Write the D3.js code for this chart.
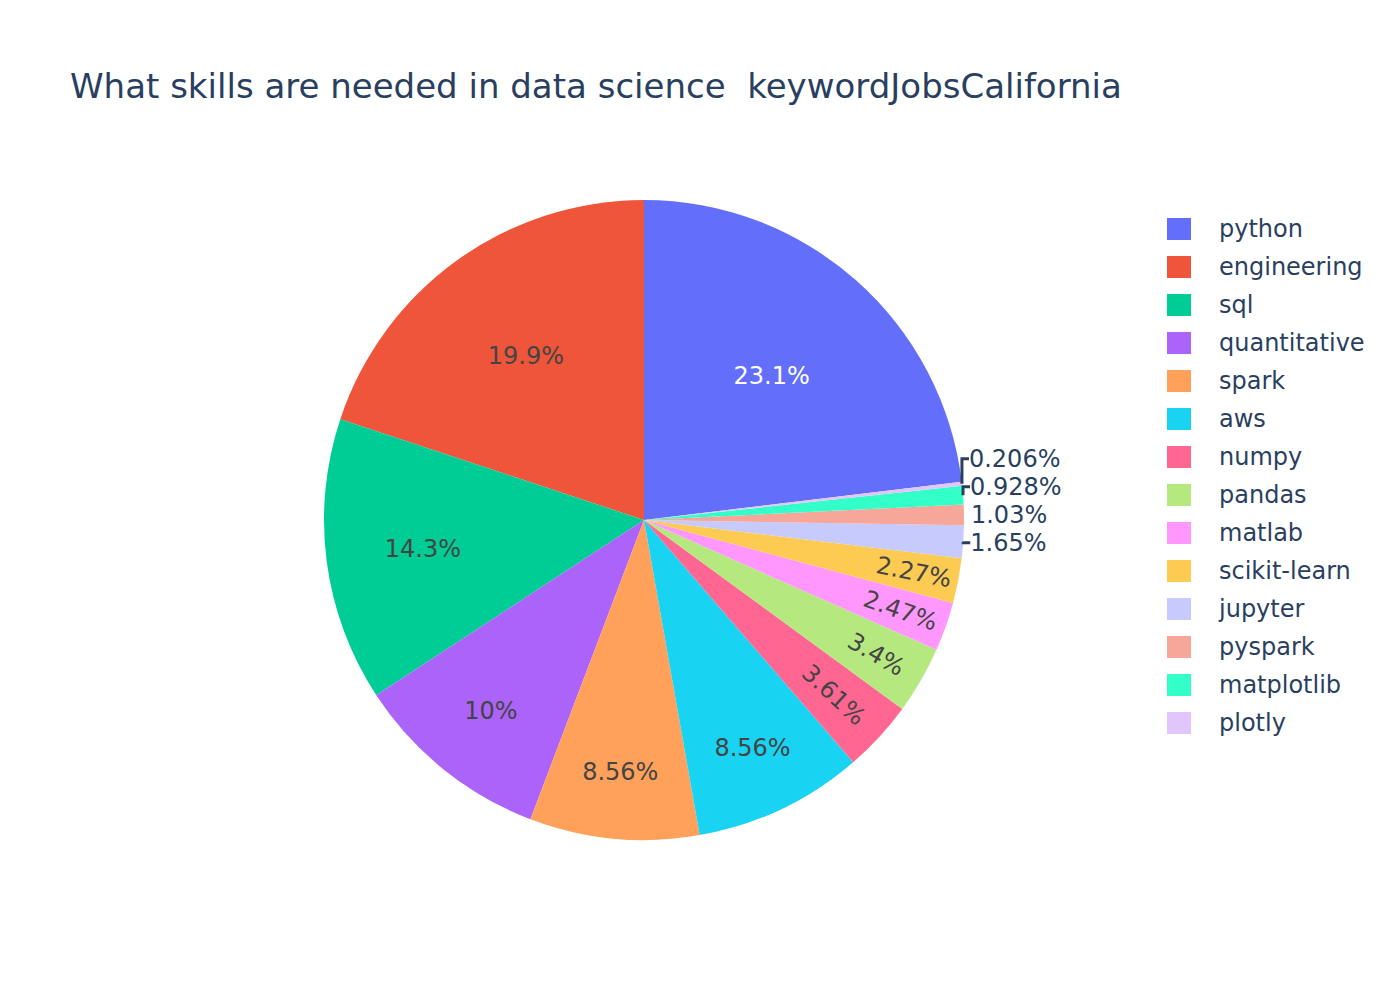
<!DOCTYPE html>
<html>
<head>
<meta charset="utf-8">
<script src="https://cdn.jsdelivr.net/npm/d3@7"></script>
<style>
  body { margin: 0; background: #fff; }
  svg { font-family: "DejaVu Sans", Verdana, sans-serif; }
</style>
</head>
<body>
<svg id="chart" width="1400" height="1000"></svg>
<script>
// data (job counts per keyword)
const skills = ["python", "engineering", "sql", "quantitative", "spark", "aws", "numpy",
  "pandas", "matlab", "scikit-learn", "jupyter", "pyspark", "matplotlib", "plotly"];
const counts = [224, 193, 139, 97, 83, 83, 35, 33, 24, 22, 16, 10, 9, 2];
const colorway = ["#636efa", "#EF553B", "#00cc96", "#ab63fa", "#FFA15A",
  "#19d3f3", "#FF6692", "#B6E880", "#FF97FF", "#FECB52"];
const titleText = "What skills are needed in data science  keywordJobsCalifornia";

const width = 1400, height = 1000;
const margin = { top: 200, right: 272, bottom: 160, left: 160 };
const innerW = width - margin.left - margin.right;
const innerH = height - margin.top - margin.bottom;
const cx = margin.left + innerW / 2;
const cy = margin.top + innerH / 2;
const r = Math.min(innerW, innerH) / 2;
const textPad = 6;
const fontSize = 24;
const fontColor = "#2a3f5f";

// plotly-like extended colours: base list, then lightened copies, then darkened
const lighter = colorway.map((c) => { const h = d3.hsl(c); h.l = Math.min(1, h.l + 0.2); return h.formatHex(); });
const darker = colorway.map((c) => { const h = d3.hsl(c); h.l = Math.max(0, h.l - 0.2); return h.formatHex(); });
const color = d3.scaleOrdinal().domain(skills).range(colorway.concat(lighter, darker));

// white text on dark slices, grey on light ones
const contrast = (c) => {
  const rgb = d3.rgb(c);
  const b = (rgb.r * 299 + rgb.g * 587 + rgb.b * 114) / 1000;
  return b >= 128 ? "#444" : "#fff";
};

const data = skills.map((s, i) => ({ skill: s, count: counts[i] }));
const total = d3.sum(counts);
const pct = (v) => d3.format(".3~r")(v / total * 100) + "%";

const svg = d3.select("#chart");

// title
svg.append("text")
  .attr("x", 70)
  .attr("y", 98)
  .attr("fill", fontColor)
  .style("font-size", "34px")
  .style("white-space", "pre")
  .text(titleText);

// first slice ends at 12 o'clock, rest go counterclockwise
const a0 = 2 * Math.PI * counts[0] / total;
const pie = d3.pie().sort(null).value((d) => d.count).startAngle(a0).endAngle(a0 - 2 * Math.PI);
const arcs = pie(data);
const arc = d3.arc().innerRadius(0).outerRadius(r);

const g = svg.append("g").attr("transform", `translate(${cx},${cy})`);

g.selectAll("path.slice")
  .data(arcs)
  .join("path")
  .attr("class", "slice")
  .attr("d", arc)
  .attr("fill", (d) => color(d.data.skill));

// --- label placement, following plotly's inside/outside rules ---
const maxHalf = (a, half, rr) => {
  const q = a + 1 / (2 * Math.tan(half));
  return rr * Math.min(1 / (Math.sqrt(q * q + 0.5) + q), 1 / (Math.sqrt(a * a + 0.5) + a));
};
const calcRotate = (t) => (180 / Math.PI * t + 720) % 180 - 90;

function insideTransform(bb, half, mid) {
  const rIns = Math.min(1 / (1 + 1 / Math.sin(half)), 0.5);
  const hor = { scale: rIns * r * 2 / Math.hypot(bb.width, bb.height), rCenter: 1 - rIns, rotate: 0 };
  if (hor.scale >= 1) return hor;
  const rr = Math.max(0, r - 2 * textPad);
  const a = bb.width / bb.height;
  const s = maxHalf(a, half, rr);
  const rad = { scale: s * 2 / bb.height, rCenter: Math.cos(s / rr) - a * s / rr, rotate: calcRotate(mid) };
  const at = bb.height / bb.width;
  const st = maxHalf(at, half, rr);
  const tan = { scale: st * 2 / bb.width, rCenter: Math.cos(st / rr) - at * st / rr, rotate: calcRotate(mid + Math.PI / 2) };
  return [hor, rad, tan].reduce((m, t) => (t.scale > m.scale ? t : m));
}

const labels = g.append("g");
const outside = [];

arcs.forEach((d) => {
  const mid = (d.startAngle + d.endAngle) / 2;
  const half = Math.abs(d.endAngle - d.startAngle) / 2;
  const fill = color(d.data.skill);
  const t = labels.append("text")
    .attr("text-anchor", "middle")
    .style("font-size", fontSize + "px")
    .text(pct(d.data.count));
  const bb = t.node().getBBox();
  const yShift = -(bb.y + bb.height / 2);
  const tr = insideTransform(bb, half, mid);
  if (tr.scale >= 1) {
    const x = tr.rCenter * r * Math.sin(mid);
    const y = -tr.rCenter * r * Math.cos(mid);
    t.attr("fill", contrast(fill))
      .attr("transform", `translate(${x},${y}) rotate(${tr.rotate}) translate(0,${yShift})`);
  } else {
    const px = r * Math.sin(mid), py = -r * Math.cos(mid);
    let dx = bb.width / 2, dy = bb.height / 2;
    if (px < 0) dx *= -1;
    if (py < 0) dy *= -1;
    const ox = dx + Math.abs(dy) * Math.sign(dx) / 2;
    const oy = dy / (1 + (px * px) / (py * py));
    t.attr("fill", fontColor);
    outside.push({ t, bb, yShift, px, py, x: px + ox, y0: py + oy, y: py + oy });
  }
});

// push overlapping outside labels apart, away from the horizontal
["right", "left"].forEach((side) => {
  const grp = outside.filter((o) => (side === "right" ? o.px >= 0 : o.px < 0));
  const upper = grp.filter((o) => o.py < 0).sort((a, b) => b.y0 - a.y0);
  const lower = grp.filter((o) => o.py >= 0).sort((a, b) => a.y0 - b.y0);
  let prev = null;
  upper.forEach((o) => {
    if (prev) o.y = Math.min(o.y0, prev.y - prev.bb.height / 2 - o.bb.height / 2);
    prev = o;
  });
  let prevL = upper.length ? upper[0] : null;
  lower.forEach((o) => {
    if (prevL) o.y = Math.max(o.y0, prevL.y + prevL.bb.height / 2 + o.bb.height / 2);
    prevL = o;
  });
});

outside.forEach((o) => {
  o.t.attr("transform", `translate(${o.x},${o.y}) translate(0,${o.yShift})`);
  if (Math.abs(o.y - o.y0) > 0.01) {
    const edge = o.x - Math.sign(o.px || 1) * o.bb.width / 2;
    labels.append("path")
      .attr("d", `M${o.px},${o.py}V${o.y}H${edge}`)
      .attr("fill", "none")
      .attr("stroke", fontColor)
      .attr("stroke-width", 3);
  }
});

// legend
const legendX = 1167, legendTop = 229, itemH = 38;
const legend = svg.append("g");
const items = legend.selectAll("g")
  .data(skills)
  .join("g")
  .attr("transform", (d, i) => `translate(${legendX},${legendTop + i * itemH})`);
items.append("rect")
  .attr("x", 0)
  .attr("y", -11)
  .attr("width", 24)
  .attr("height", 22)
  .attr("fill", (d) => color(d));
items.append("text")
  .attr("x", 52)
  .attr("dy", "0.35em")
  .attr("fill", fontColor)
  .style("font-size", fontSize + "px")
  .text((d) => d);
</script>
</body>
</html>
